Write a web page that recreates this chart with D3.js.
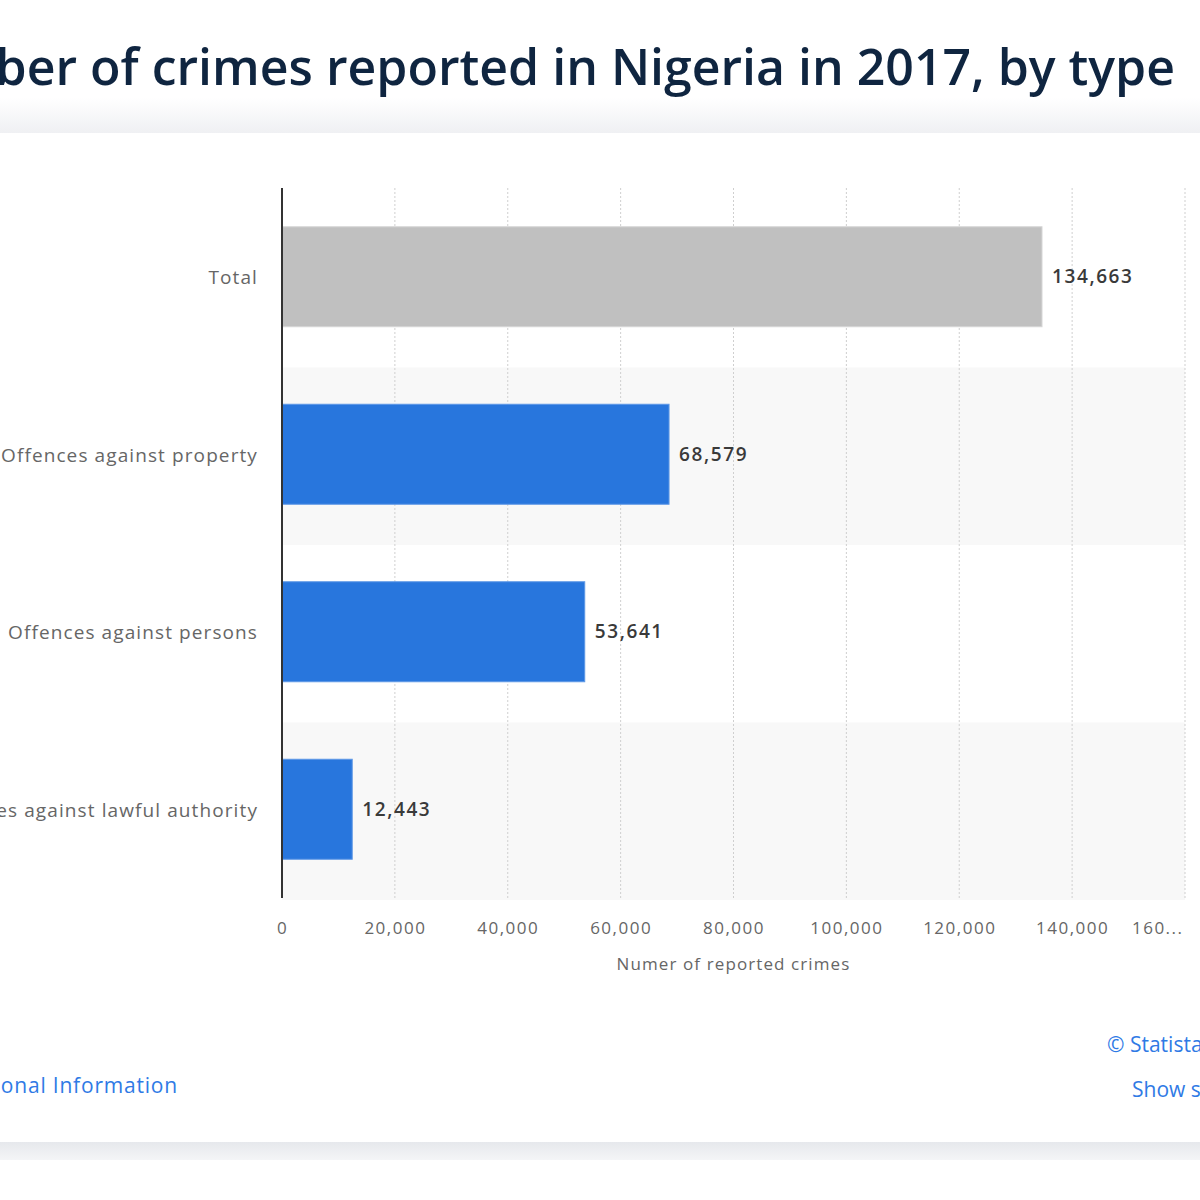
<!DOCTYPE html>
<html><head><meta charset="utf-8">
<script src="https://cdn.jsdelivr.net/npm/d3@7"></script>
<style>html,body{margin:0;padding:0;background:#fff;}svg{display:block;}</style>
</head><body>
<script>
const title = "Number of crimes reported in Nigeria in 2017, by type";
const categories = ["Total", "Offences against property", "Offences against persons", "Offences against lawful authority"];
const values = [134663, 68579, 53641, 12443];
const barColors = ["#c0c0c0", "#2876dd", "#2876dd", "#2876dd"];
const tickValues = [0, 20000, 40000, 60000, 80000, 100000, 120000, 140000, 160000];
const tickLabels = ["0", "20,000", "40,000", "60,000", "80,000", "100,000", "120,000", "140,000", "160..."];
const axisTitle = "Numer of reported crimes";
const footerLeft = "Additional Information";
const footerRight1 = "© Statista 2021";
const footerRight2 = "Show source";

(function(){
const W = 1200, H = 1200;
const svg = d3.select("body").append("svg").attr("width", W).attr("height", H);
const defs = svg.append("defs");
const g1 = defs.append("linearGradient").attr("id","topg").attr("x1",0).attr("y1",0).attr("x2",0).attr("y2",1);
g1.append("stop").attr("offset","0").attr("stop-color","#ffffff");
g1.append("stop").attr("offset","1").attr("stop-color","#eff0f3");
const g2 = defs.append("linearGradient").attr("id","botg").attr("x1",0).attr("y1",0).attr("x2",0).attr("y2",1);
g2.append("stop").attr("offset","0").attr("stop-color","#e6e8ec");
g2.append("stop").attr("offset","1").attr("stop-color","#f4f5f7");

svg.append("rect").attr("x",0).attr("y",98).attr("width",W).attr("height",35).attr("fill","url(#topg)");
svg.append("rect").attr("x",0).attr("y",1142).attr("width",W).attr("height",18).attr("fill","url(#botg)");

svg.append("text").attr("x",1175).attr("y",85).attr("text-anchor","end")
  .attr("font-family","'Open Sans', sans-serif").attr("font-weight",600).attr("font-size",50)
  .attr("fill","#0f2540").text(title);

const pL = 282, pR = 1185, pT = 190, pB = 900;
const x = d3.scaleLinear().domain([0,160000]).range([pL,pR]);
const yBand = d3.scaleBand().domain(categories).range([pT,pB]).paddingInner(0).paddingOuter(0);
const bh = 100;

svg.append("g").selectAll("rect").data(categories).join("rect")
  .attr("x", pL).attr("y", d => yBand(d)).attr("width", pR-pL).attr("height", yBand.bandwidth())
  .attr("fill", (d,i) => i%2===1 ? "#f8f8f8" : "none");

svg.append("g").selectAll("line").data(tickValues.slice(1)).join("line")
  .attr("x1", d=>x(d)).attr("x2", d=>x(d)).attr("y1", 188).attr("y2", 898)
  .attr("stroke","#cfcfcf").attr("stroke-width",1).attr("stroke-dasharray","2,2");

svg.append("g").selectAll("rect").data(values).join("rect")
  .attr("x", x(0)).attr("y", (d,i)=> yBand(categories[i]) + yBand.bandwidth()/2 - 52)
  .attr("width", d => x(d)-x(0)).attr("height", bh)
  .attr("fill", (d,i)=>barColors[i])
  .attr("stroke", (d,i)=> i===0 ? "#d6d6d6" : "#5e98e6").attr("stroke-width",1);

const fmt = d3.format(",");
svg.append("g").selectAll("text").data(values).join("text")
  .attr("x", d => x(d)+10).attr("y", (d,i)=> yBand(categories[i]) + yBand.bandwidth()/2 - 2)
  .attr("dy","0.35em").attr("font-family","'Open Sans', sans-serif").attr("font-weight",600)
  .attr("font-size",19).attr("letter-spacing","1.6px").attr("fill","#3a3a3a").text(d=>fmt(d));

svg.append("g").selectAll("text").data(categories).join("text")
  .attr("x", 258).attr("y", d => yBand(d)+yBand.bandwidth()/2 - 1)
  .attr("dy","0.35em").attr("text-anchor","end")
  .attr("font-family","'Open Sans', sans-serif").attr("font-size",19).attr("letter-spacing","1.1px")
  .attr("fill","#666").text(d=>d);

svg.append("line").attr("x1",pL).attr("x2",pL).attr("y1",188).attr("y2",898)
  .attr("stroke","#333").attr("stroke-width",2);

const xAxis = d3.axisBottom(x).tickValues(tickValues).tickSize(0).tickFormat((d,i)=>tickLabels[i]);
const ax = svg.append("g").attr("transform",`translate(0,${pB+19})`).call(xAxis);
ax.select(".domain").remove();
ax.selectAll("text").attr("font-family","'Open Sans', sans-serif").attr("font-size",17)
  .attr("letter-spacing","1.5px").attr("fill","#666")
  .attr("text-anchor",(d,i)=> i===tickValues.length-1 ? "end" : "middle")
  .attr("dx",(d,i)=> i===tickValues.length-1 ? "-2" : "0");

svg.append("text").attr("x",(pL+pR)/2).attr("y",970).attr("text-anchor","middle")
  .attr("font-family","'Open Sans', sans-serif").attr("font-size",17).attr("letter-spacing","1.1px")
  .attr("fill","#666").text(axisTitle);

svg.append("text").attr("x",178).attr("y",1093).attr("text-anchor","end")
  .attr("font-family","'Open Sans', sans-serif").attr("font-size",21).attr("letter-spacing","0.8px")
  .attr("fill","#2f7ae5").text(footerLeft);
svg.append("text").attr("x",1107).attr("y",1052)
  .attr("font-family","'Open Sans', sans-serif").attr("font-size",21).attr("fill","#2f7ae5").text(footerRight1);
svg.append("text").attr("x",1132).attr("y",1097)
  .attr("font-family","'Open Sans', sans-serif").attr("font-size",21).attr("fill","#2f7ae5").text(footerRight2);
})();
</script>
</body></html>
